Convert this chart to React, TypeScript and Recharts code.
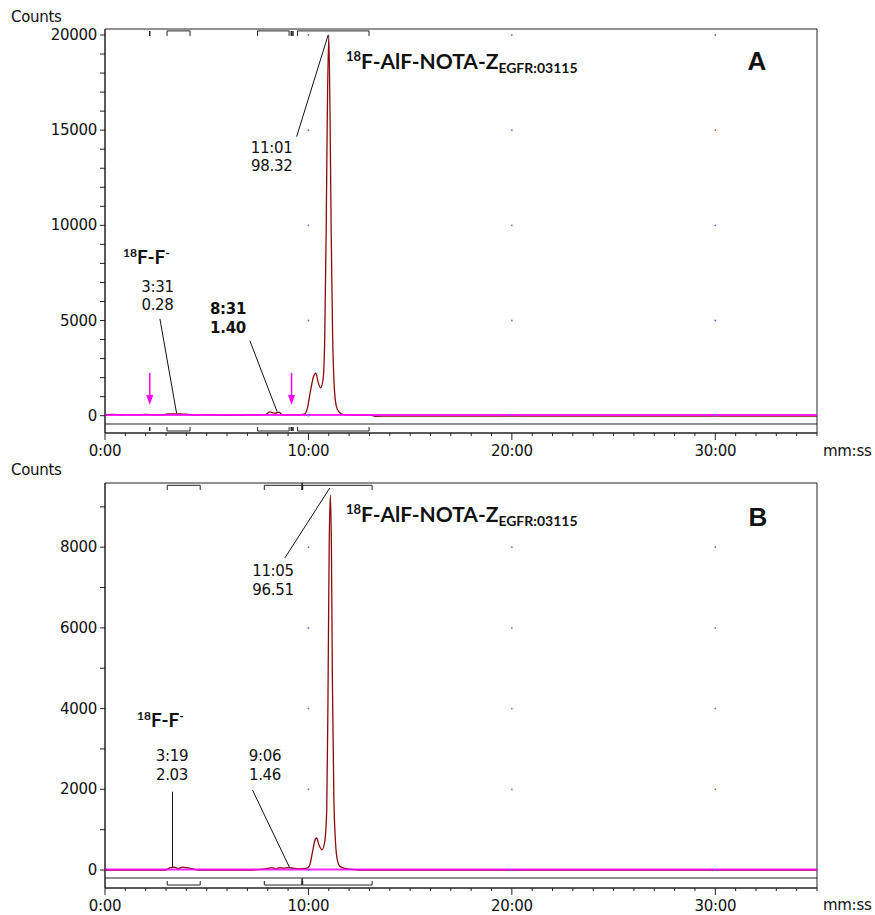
import React from 'react'
import { LineChart, Line, XAxis, YAxis, ReferenceLine, ReferenceArea, ReferenceDot } from 'recharts'

// chromatogram A (minutes, counts)
const TIME_A = [0, 0.4, 0.8, 1.2, 1.6, 2.0, 2.4, 2.8, 3.1, 3.4, 3.7, 4.0, 4.4, 4.8, 5.2, 5.6, 6.0, 6.5, 7.0, 7.5, 7.9, 8.1, 8.25, 8.4, 8.55, 8.7, 8.9, 9.2, 9.5, 9.8, 9.95, 10.1, 10.25, 10.36, 10.48, 10.6, 10.72, 10.8, 10.87, 10.93, 11.0, 11.06, 11.12, 11.19, 11.27, 11.37, 11.5, 11.65, 11.8, 12.0, 12.5, 13.0, 13.3, 14, 16, 20, 25, 30, 35]
const COUNTS_A = [60, 70, 50, 60, 40, 70, 50, 40, 90, 100, 90, 80, 30, 60, 40, 30, 20, 30, 40, 50, 60, 200, 150, 140, 190, 60, 40, 40, 40, 80, 400, 1300, 2050, 2240, 1750, 1460, 1900, 4000, 9500, 16000, 20000, 16000, 9500, 4200, 1500, 500, 200, 90, 50, 40, 30, 40, -30, -20, -20, -20, -20, -20, -20]

// chromatogram B
const TIME_B = [0, 1, 2, 3.0, 3.2, 3.4, 3.6, 3.8, 4.0, 4.3, 4.6, 5, 6, 7, 7.8, 8.0, 8.2, 8.4, 8.6, 8.8, 9.0, 9.2, 9.5, 9.9, 10.05, 10.2, 10.3, 10.4, 10.52, 10.67, 10.8, 10.9, 10.96, 11.02, 11.08, 11.13, 11.18, 11.25, 11.33, 11.42, 11.55, 11.8, 12.0, 12.5, 14, 20, 25, 30, 35]
const COUNTS_B = [0, 0, 0, 0, 60, 70, 40, 70, 60, 30, 0, 0, 0, 0, 20, 40, 60, 30, 60, 40, 60, 50, 30, 40, 100, 450, 700, 793, 620, 500, 700, 1500, 4200, 8000, 9294, 8000, 4600, 1800, 700, 250, 90, 40, 20, 0, 0, 0, 0, 0, 0]

const X_MAJOR = [0, 10, 20, 30]
const X_LABELS = ['0:00', '10:00', '20:00', '30:00']
const Y_MAJOR_A = [0, 5000, 10000, 15000, 20000]
const Y_MAJOR_B = [0, 2000, 4000, 6000, 8000]

// integration brackets [start, end] in minutes
const BRACKETS_A = [[3.05, 4.18], [7.5, 9.05], [9.46, 12.98]]
const MARKS_A = [2.2, 9.16, 9.24]
const BRACKETS_B = [[3.06, 4.68], [7.83, 9.69], [9.72, 13.13]]
const MARKS_B = [9.69]

const ARROWS_A = [2.2, 9.17]

const rowsA = TIME_A.map((t, i) => ({ t, c: COUNTS_A[i] }))
const rowsB = TIME_B.map((t, i) => ({ t, c: COUNTS_B[i] }))

const minuteTicks = Array.from({ length: 36 }, (_, i) => i)
const FONT = '"DejaVu Sans", Verdana, sans-serif'
const TITLE_FONT = 'Lato, "Open Sans", sans-serif'
const TRACE = '#8b0a0a'
const MAGENTA = '#ff00ff'
const FS = 15

const XTick = (props: any) => {
    const { x, y, payload } = props
    const idx = X_MAJOR.indexOf(payload.value)
    const major = idx >= 0
    return (
        <g>
            <line x1={x} x2={x} y1={y} y2={y + (major ? 7 : 3)} stroke="#222" />
            {major && (
                <text x={x} y={y + 18} textAnchor="middle" dominantBaseline="central" fontSize={FS} letterSpacing={-0.3} fill="#111" fontFamily={FONT}>
                    {X_LABELS[idx]}
                </text>
            )}
        </g>
    )
}

const makeYTick = (majors: number[]) => (props: any) => {
    const { x, y, payload } = props
    if (!majors.includes(payload.value)) return <g />
    return (
        <text x={x} y={y} textAnchor="end" dominantBaseline="central" fontSize={FS} letterSpacing={-0.3} fill="#111" fontFamily={FONT}>
            {payload.value}
        </text>
    )
}

const seg = (key: string, x1: number, y1: number, x2: number, y2: number, color = '#222', w = 1) => (
    <ReferenceLine key={key} segment={[{ x: x1, y: y1 }, { x: x2, y: y2 }]} stroke={color} strokeWidth={w} ifOverflow="visible" />
)

// brackets hanging from top (open downward) or sitting at bottom (open upward)
const bracketLines = (prefix: string, list: number[][], yEdge: number, yEnd: number) =>
    list.flatMap(([a, b], i) => [
        seg(`${prefix}h${i}`, a, yEdge, b, yEdge),
        seg(`${prefix}l${i}`, a, yEdge, a, yEnd),
        seg(`${prefix}r${i}`, b, yEdge, b, yEnd),
    ])

const markLines = (prefix: string, list: number[], y1: number, y2: number) =>
    list.map((m, i) => seg(`${prefix}${i}`, m, y1, m, y2, '#222', 1.5))

const gridDots = (prefix: string, ys: number[]) =>
    [10, 20, 30].flatMap(x => ys.map(y => (
        <ReferenceDot key={`${prefix}${x}-${y}`} x={x} y={y} r={0.9} fill="#6a6aff" stroke="none" />
    )))

const arrowHead = (p: any) => (
    <path d={`M${p.cx - 3.5},${p.cy - 10} L${p.cx + 3.5},${p.cy - 10} L${p.cx},${p.cy} Z`} fill={MAGENTA} />
)

const Txt = ({ x, y, children, size = FS, bold = false, anchor = 'center', family = FONT }: any) => (
    <div
        style={{
            position: 'absolute',
            left: x,
            top: y,
            transform: anchor === 'center' ? 'translate(-50%, -50%)' : 'translateY(-50%)',
            fontSize: size,
            fontWeight: bold ? 700 : 400,
            fontFamily: family,
            letterSpacing: family === FONT ? -0.3 : 0,
            color: '#111',
            whiteSpace: 'nowrap',
            lineHeight: 1,
        }}
    >
        {children}
    </div>
)

const Pair = ({ x, y, a, b, bold = false }: any) => (
    <>
        <Txt x={x} y={y} bold={bold}>{a}</Txt>
        <Txt x={x} y={y + 18.5} bold={bold}>{b}</Txt>
    </>
)

const Title = ({ x, y }: any) => (
    <div style={{ position: 'absolute', left: x, top: y, transform: 'translateY(-50%)', fontFamily: TITLE_FONT, fontWeight: 700, fontSize: 21, color: '#111', whiteSpace: 'nowrap', lineHeight: 1 }}>
        <span style={{ fontSize: 13, verticalAlign: 8 }}>18</span>
        F-AlF-NOTA-Z
        <span style={{ fontSize: 14, verticalAlign: -4 }}>EGFR:03115</span>
    </div>
)

const Fluoride = ({ x, y }: any) => (
    <div style={{ position: 'absolute', left: x, top: y, transform: 'translateY(-50%)', fontFamily: TITLE_FONT, fontWeight: 700, fontSize: 19, color: '#111', whiteSpace: 'nowrap', lineHeight: 1 }}>
        <span style={{ fontSize: 12, verticalAlign: 7 }}>18</span>
        F-F
        <span style={{ fontSize: 12, verticalAlign: 7 }}>-</span>
    </div>
)

export default function App() {
    return (
        <div style={{ position: 'absolute', left: 0, top: 0, width: 875, height: 915, background: '#fff', fontFamily: FONT }}>
            {/* Panel A */}
            <div style={{ position: 'absolute', left: 0, top: 0 }}>
                <LineChart width={875} height={470} data={rowsA} margin={{ top: 29, right: 58, left: 0, bottom: 7 }}>
                    <XAxis dataKey="t" type="number" domain={[0, 35]} ticks={minuteTicks} interval={0} tick={XTick}
                        tickLine={false} tickSize={0} tickMargin={0} height={30} stroke="#222" allowDataOverflow />
                    <YAxis type="number" domain={[-909, 20315]} ticks={Array.from({ length: 21 }, (_, i) => i * 1000)} interval={0}
                        tick={makeYTick(Y_MAJOR_A)} tickSize={5} tickMargin={3} width={105} stroke="#222" allowDataOverflow />
                    <ReferenceArea x1={0} x2={35} y1={-909} y2={20315} fill="none" stroke="#222" strokeOpacity={1} />
                    <ReferenceLine y={-436} stroke="#222" />
                    {gridDots('ga', Y_MAJOR_A)}
                    {bracketLines('bta', BRACKETS_A, 20215, 19953)}
                    {bracketLines('bba', BRACKETS_A, -804, -594)}
                    {markLines('mta', MARKS_A, 20215, 19953)}
                    {markLines('mba', MARKS_A, -594, -804)}
                    <Line dataKey="c" type="monotone" dot={false} stroke={TRACE} strokeWidth={1.3} isAnimationActive={false} />
                    <ReferenceLine y={40} stroke={MAGENTA} strokeWidth={2} strokeOpacity={0.85} />
                    {ARROWS_A.map((a, i) => seg(`arr${i}`, a, 2244, a, 900, MAGENTA, 1.5))}
                    {ARROWS_A.map((a, i) => (
                        <ReferenceDot key={`ah${i}`} x={a} y={560} r={0} shape={arrowHead} />
                    ))}
                    {seg('la1', 10.97, 20000, 9.42, 14661, '#111')}
                    {seg('la2', 2.70, 5081, 3.52, 126, '#111')}
                    {seg('la3', 7.12, 3941, 8.46, 210, '#111')}
                </LineChart>
            </div>

            {/* Panel B */}
            <div style={{ position: 'absolute', left: 0, top: 460 }}>
                <LineChart width={875} height={455} data={rowsB} margin={{ top: 23, right: 58, left: 0, bottom: 2 }}>
                    <XAxis dataKey="t" type="number" domain={[0, 35]} ticks={minuteTicks} interval={0} tick={XTick}
                        tickLine={false} tickSize={0} tickMargin={0} height={25} stroke="#222" allowDataOverflow />
                    <YAxis type="number" domain={[-446, 9591]} ticks={Array.from({ length: 10 }, (_, i) => i * 1000)} interval={0}
                        tick={makeYTick(Y_MAJOR_B)} tickSize={5} tickMargin={3} width={105} stroke="#222" allowDataOverflow />
                    <ReferenceArea x1={0} x2={35} y1={-446} y2={9591} fill="none" stroke="#222" strokeOpacity={1} />
                    <ReferenceLine y={-198} stroke="#222" />
                    {gridDots('gb', Y_MAJOR_B)}
                    {bracketLines('btb', BRACKETS_B, 9534, 9418)}
                    {bracketLines('bbb', BRACKETS_B, -372, -273)}
                    {markLines('mtb', MARKS_B, 9591, 9418)}
                    {markLines('mbb', MARKS_B, -198, -372)}
                    <Line dataKey="c" type="monotone" dot={false} stroke={TRACE} strokeWidth={1.3} isAnimationActive={false} />
                    <ReferenceLine y={10} stroke={MAGENTA} strokeWidth={2} strokeOpacity={0.85} />
                    {seg('lb1', 11.05, 9467, 8.84, 7733, '#111')}
                    {seg('lb2', 3.32, 1940, 3.32, 66, '#111')}
                    {seg('lb3', 7.25, 1983, 9.09, 42, '#111')}
                </LineChart>
            </div>

            {/* Panel A texts */}
            <Txt x={11} y={17} anchor="left">Counts</Txt>
            <Title x={346} y={62} />
            <Txt x={757} y={61} size={26} bold family="Arial, Liberation Sans, sans-serif">A</Txt>
            <Fluoride x={123} y={256} />
            <Pair x={157.5} y={286.5} a="3:31" b="0.28" />
            <Pair x={228} y={309} a="8:31" b="1.40" bold />
            <Pair x={271.7} y={147.5} a="11:01" b="98.32" />
            <Txt x={823} y={451} anchor="left">mm:ss</Txt>

            {/* Panel B texts */}
            <Txt x={11} y={470} anchor="left">Counts</Txt>
            <Title x={346} y={515} />
            <Txt x={758} y={517} size={26} bold family="Arial, Liberation Sans, sans-serif">B</Txt>
            <Fluoride x={137} y={719} />
            <Pair x={172} y={756} a="3:19" b="2.03" />
            <Pair x={265} y={756} a="9:06" b="1.46" />
            <Pair x={273} y={571} a="11:05" b="96.51" />
            <Txt x={823} y={905} anchor="left">mm:ss</Txt>
        </div>
    )
}
